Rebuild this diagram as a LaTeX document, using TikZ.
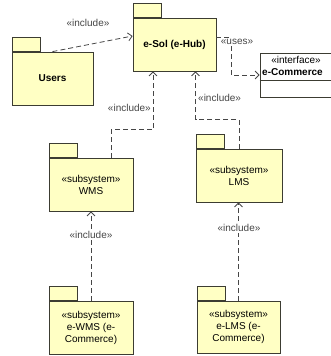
\documentclass[tikz,border=0pt]{standalone}
\usepackage{fontspec}
\setmainfont{Liberation Sans}
\usetikzlibrary{arrows.meta}
\definecolor{pkgfill}{RGB}{255,255,196}
\definecolor{pkgline}{RGB}{60,60,50}
\definecolor{dep}{RGB}{70,70,70}
\tikzset{
  pkgbody/.style={draw=pkgline, fill=pkgfill, line width=0.8pt, minimum height=53pt, inner sep=0pt, align=center, font=\fontsize{10}{12}\selectfont},
  pkgtab/.style={draw=pkgline, fill=pkgfill, line width=0.8pt, minimum width=28pt, minimum height=14pt, inner sep=0pt, anchor=south west},
  deparrow/.style={draw=dep, line width=0.8pt, dash pattern=on 5pt off 3pt, -{Straight Barb[length=4pt,width=8pt]}},
  steotext/.style={font=\fontsize{10}{12}\selectfont, text=dep, inner sep=1pt},
}
\begin{document}
\begin{tikzpicture}[x=1pt,y=-1pt]
\useasboundingbox (0,0) rectangle (330,356);
\fill[white] (0,0) rectangle (330,356);
% packages
\node[pkgtab] (esoltab) at (133,18) {};
\node[pkgbody, minimum width=83pt] (esol) at (174.5,44.5) {\textbf{e-Sol (e-Hub)}};
\node[pkgtab] (userstab) at (12,52) {};
\node[pkgbody, minimum width=81pt] (users) at (52.5,78.5) {\textbf{Users}};
\node[pkgtab] (wmstab) at (49,158) {};
\node[pkgbody, minimum width=84pt] (wms) at (91,184.5) {«subsystem»\\WMS};
\node[pkgtab] (lmstab) at (196,149) {};
\node[pkgbody, minimum width=86pt] (lms) at (239,175.5) {«subsystem»\\LMS};
\node[pkgtab] (ewmstab) at (49,301) {};
\node[pkgbody, minimum width=84pt] (ewms) at (91,327.5) {«subsystem»\\e-WMS (e-\\Commerce)};
\node[pkgtab] (elmstab) at (197,301) {};
\node[pkgbody, minimum width=83pt, minimum height=52pt] (elms) at (238.5,327) {«subsystem»\\e-LMS (e-\\Commerce)};
% interface
\node[draw=pkgline, fill=white, line width=0.8pt, minimum width=75pt, minimum height=44pt, inner sep=0pt] (iface) at (297.5,75) {};
\draw[pkgline, line width=0.8pt] (iface.west |- 0,80) -- (iface.east |- 0,80);
\node[font=\fontsize{10}{12}\selectfont, inner sep=0pt] (ifst) at (296,60) {«interface»};
\node[font=\fontsize{10}{12}\selectfont\bfseries, inner sep=0pt, anchor=west] (ifname) at (262,72) {e-Commerce};
% connectors
\draw[deparrow] (users.north) -- ([yshift=8.5pt]esol.west);
\node[steotext] (l1) at (88,23) {«include»};
\draw[deparrow] ([yshift=7.5pt]esol.east) -- ++(15,0) |- (iface.west);
\node[steotext, fill=white] (l2) at (237,42) {«uses»};
\draw[deparrow] (lms.north) -- ++(0,-29) -| ([xshift=21pt]esol.south);
\node[steotext, fill=white, anchor=west] (l3) at (197,98) {«include»};
\draw[deparrow] ([xshift=20pt]wms.north) -- ++(0,-28) -| ([xshift=-21.5pt]esol.south);
\node[steotext, fill=white, anchor=east] (l4) at (152,108) {«include»};
\draw[deparrow] (ewms.north) -- (wms.south);
\node[steotext, fill=white] (l5) at (91,235) {«include»};
\draw[deparrow] (elms.north) -- (elms.north |- lms.south);
\node[steotext, fill=white] (l6) at (239,228) {«include»};
\end{tikzpicture}
\end{document}
